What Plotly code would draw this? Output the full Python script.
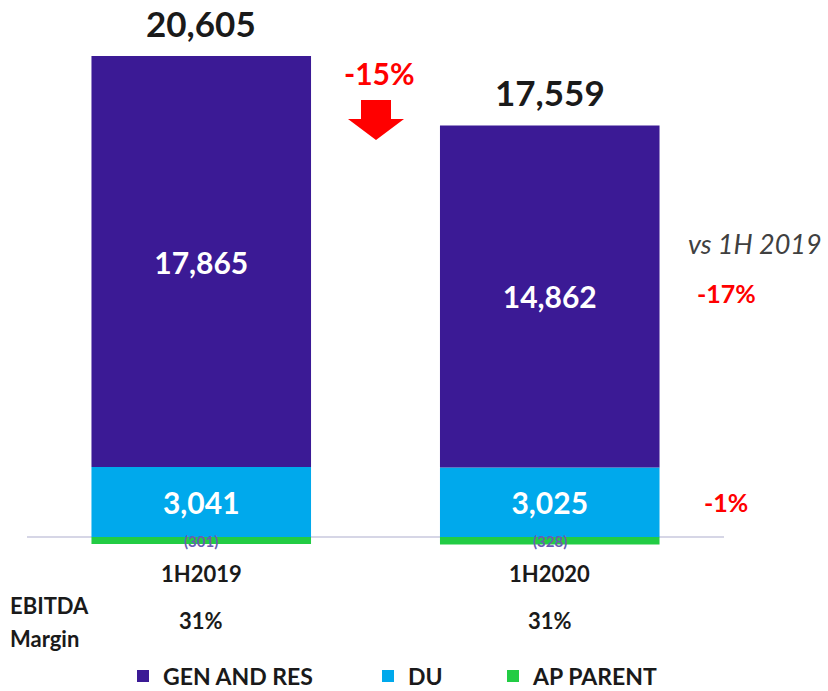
import plotly.graph_objects as go

periods = ["1H2019", "1H2020"]
gen_and_res = [17865, 14862]
du = [3041, 3025]
ap_parent = [-301, -328]
ebitda_margin = ["31%", "31%"]

series_names = ["GEN AND RES", "DU", "AP PARENT"]
colors = ["#3b1a95", "#00a9ec", "#22cc44"]

totals = [g + d + a for g, d, a in zip(gen_and_res, du, ap_parent)]
pos_tops = [g + d for g, d in zip(gen_and_res, du)]

FONT = "Lato"

fig = go.Figure()
fig.add_trace(go.Bar(
    x=periods, y=du, name=series_names[1], marker_color=colors[1],
    marker_line_width=0,
    texttemplate="%{y:,}", textposition="inside", insidetextanchor="middle",
    textfont=dict(family=FONT, size=30, color="white", weight="bold"),
    legend="legend2", hoverinfo="skip",
))
fig.add_trace(go.Bar(
    x=periods, y=gen_and_res, name=series_names[0], marker_color=colors[0],
    marker_line_width=0,
    texttemplate="%{y:,}", textposition="inside", insidetextanchor="middle",
    textfont=dict(family=FONT, size=30, color="white", weight="bold"),
    legend="legend", hoverinfo="skip",
))
fig.add_trace(go.Bar(
    x=periods, y=ap_parent, name=series_names[2], marker_color=colors[2],
    marker_line_width=0, textposition="none",
    legend="legend3", hoverinfo="skip",
))

annotations = []
for p, t, top in zip(periods, totals, pos_tops):
    annotations.append(dict(x=p, y=top, xref="x", yref="y", text=f"{t:,}",
                            showarrow=False, yanchor="middle", yshift=33,
                            font=dict(family=FONT, size=35, color="#1a1a1a", weight="bold")))
for p, a in zip(periods, ap_parent):
    annotations.append(dict(x=p, y=0, xref="x", yref="y", text=f"({abs(a):,})",
                            showarrow=False, yanchor="middle", yshift=-4,
                            font=dict(family=FONT, size=15, color="#6a5cb2", weight="bold")))
for p in periods:
    annotations.append(dict(x=p, y=0, xref="x", yref="y", text=p,
                            showarrow=False, yanchor="middle", yshift=-36,
                            font=dict(family=FONT, size=22, color="#1a1a1a", weight="bold")))
for p, m in zip(periods, ebitda_margin):
    annotations.append(dict(x=p, y=0, xref="x", yref="y", text=m,
                            showarrow=False, yanchor="middle", yshift=-83,
                            font=dict(family=FONT, size=22, color="#1a1a1a", weight="bold")))

W0, PW = 27, 697
T0, PH = 10, 590
def px(xp):
    return (xp - W0) / PW
def py(yp):
    return (T0 + PH - yp) / PH

annotations += [
    dict(x=px(8), y=py(605), xref="paper", yref="paper", text="EBITDA", showarrow=False,
         xanchor="left", yanchor="middle",
         font=dict(family=FONT, size=22, color="#1a1a1a", weight="bold")),
    dict(x=px(8), y=py(638), xref="paper", yref="paper", text="Margin", showarrow=False,
         xanchor="left", yanchor="middle",
         font=dict(family=FONT, size=22, color="#1a1a1a", weight="bold")),
    dict(x=px(379), y=py(73), xref="paper", yref="paper", text="-15%", showarrow=False,
         xanchor="center", yanchor="middle",
         font=dict(family=FONT, size=30, color="#ff0000", weight="bold")),
    dict(x=px(755), y=py(243), xref="paper", yref="paper", text="vs 1H 2019", showarrow=False,
         xanchor="center", yanchor="middle",
         font=dict(family=FONT, size=27, color="#404040", style="italic")),
    dict(x=px(726), y=py(293), xref="paper", yref="paper", text="-17%", showarrow=False,
         xanchor="center", yanchor="middle",
         font=dict(family=FONT, size=25, color="#ff0000", weight="bold")),
    dict(x=px(726), y=py(502), xref="paper", yref="paper", text="-1%", showarrow=False,
         xanchor="center", yanchor="middle",
         font=dict(family=FONT, size=25, color="#ff0000", weight="bold")),
]

shapes = [
    dict(type="line", xref="paper", yref="y", x0=0, x1=1, y0=0, y1=0,
         line=dict(color="#d6d6e6", width=2), layer="below"),
    dict(type="path", xref="paper", yref="paper", xsizemode="pixel", ysizemode="pixel",
         xanchor=px(376), yanchor=py(119),
         path="M-15,19 L15,19 L15,0 L28,0 L0,-21 L-28,0 L-15,0 Z",
         fillcolor="#ff0000", line=dict(width=0)),
]

units_per_px = (pos_tops[0]) / (537 - 56)
y_top = (537 - T0) * units_per_px
y_bot = -(T0 + PH - 537) * units_per_px

legend_font = dict(family=FONT, size=23, color="#1a1a1a", weight="bold")
def leg(xpix):
    return dict(x=(xpix - 14) / 828, xref="container",
                y=(691 - 676) / 691, yref="container",
                xanchor="left", yanchor="middle",
                orientation="h", font=legend_font, bgcolor="rgba(0,0,0,0)",
                borderwidth=0)

fig.update_layout(
    width=828, height=691,
    margin=dict(l=W0, r=828 - W0 - PW, t=T0, b=691 - T0 - PH, autoexpand=False),
    paper_bgcolor="white", plot_bgcolor="white",
    barmode="relative", bargap=0.37,
    showlegend=True,
    legend=leg(137), legend2=leg(382), legend3=leg(507),
    xaxis=dict(range=[-0.5, 1.5], showticklabels=False, showgrid=False,
               zeroline=False, showline=False, ticks=""),
    yaxis=dict(range=[y_bot, y_top], showticklabels=False, showgrid=False,
               zeroline=False, showline=False, ticks=""),
    annotations=annotations, shapes=shapes,
    font=dict(family=FONT),
)

fig.write_html("out.html", config={"displayModeBar": False},
               post_script="document.body.style.margin='0';")
